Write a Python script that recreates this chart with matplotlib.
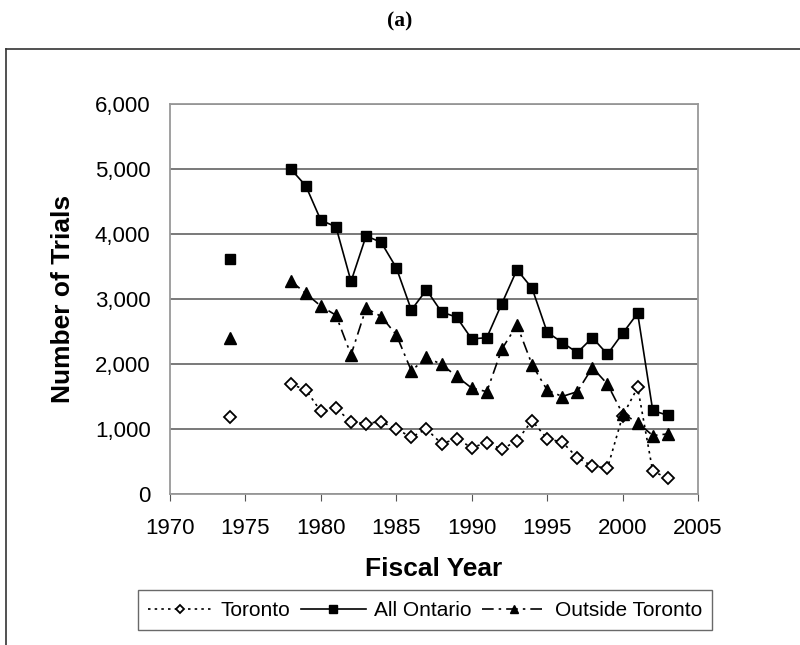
import numpy as np
import matplotlib
matplotlib.use('Agg')
import matplotlib.pyplot as plt
from matplotlib.lines import Line2D
from matplotlib.ticker import FuncFormatter

plt.rcParams['font.family'] = ['Liberation Sans', 'DejaVu Sans']

# fiscal years (1975-1977 not reported)
years = [1974, 1975, 1976, 1977, 1978, 1979, 1980, 1981, 1982, 1983, 1984,
         1985, 1986, 1987, 1988, 1989, 1990, 1991, 1992, 1993, 1994, 1995,
         1996, 1997, 1998, 1999, 2000, 2001, 2002, 2003]
nan = np.nan
toronto = [1190, nan, nan, nan, 1690, 1605, 1270, 1320, 1110, 1085, 1115,
           1000, 875, 1000, 775, 850, 715, 790, 690, 820, 1130, 850,
           800, 560, 430, 400, 1200, 1640, 350, 245]
all_ontario = [3610, nan, nan, nan, 5000, 4740, 4210, 4110, 3270, 3970, 3870,
               3480, 2830, 3140, 2800, 2720, 2385, 2405, 2930, 3450, 3165, 2490,
               2330, 2175, 2405, 2150, 2470, 2780, 1285, 1210]
outside = [2400, nan, nan, nan, 3280, 3085, 2890, 2750, 2140, 2860, 2730,
           2450, 1895, 2100, 1995, 1810, 1630, 1575, 2230, 2600, 1990, 1600,
           1500, 1575, 1945, 1690, 1235, 1100, 900, 925]

fig = plt.figure(figsize=(8, 6.45), dpi=100)
ax = fig.add_axes([0.2125, 0.234, 0.66, 0.605])

ax.plot(years, toronto, linestyle=(0, (1.5, 2.5)), color='black', lw=1.2,
        marker='D', markersize=6, markerfacecolor='white',
        markeredgecolor='black', markeredgewidth=1.3, label='Toronto')
ax.plot(years, all_ontario, linestyle='-', color='black', lw=1.2,
        marker='s', markersize=7.5, markerfacecolor='black', label='All Ontario')
ax.plot(years, outside, linestyle=(0, (7, 3, 1.5, 3)), color='black', lw=1.2,
        marker='^', markersize=8.5, markerfacecolor='black',
        label='Outside Toronto')

ax.set_xlim(1970, 2005)
ax.set_ylim(0, 6000)
ax.set_xticks(range(1970, 2006, 5))
ax.set_yticks(range(0, 6001, 1000))
ax.yaxis.set_major_formatter(FuncFormatter(lambda v, p: f'{int(v):,}'))
ax.grid(axis='y', color='#555555', lw=1.1)
ax.set_axisbelow(True)
for s in ax.spines.values():
    s.set_color('#999999')
    s.set_linewidth(1.3)
ax.tick_params(axis='x', direction='out', length=5, color='#555555',
               labelsize=16, pad=12.5)
ax.tick_params(axis='y', length=0, labelsize=16, pad=14)

ax.set_xlabel('Fiscal Year', fontsize=19, fontweight='bold', labelpad=13)
ax.set_ylabel('Number of Trials', fontsize=19, fontweight='bold', labelpad=14)

leg = ax.legend(loc='upper center', bbox_to_anchor=(0.483, -0.247), ncol=3,
                fontsize=15, frameon=True, fancybox=False, edgecolor='#444444',
                handlelength=3.1, handletextpad=0.4, columnspacing=0.5,
                borderpad=0.5, borderaxespad=0, markerscale=0.75)
leg.get_frame().set_linewidth(1.0)

fig.text(0.5, 0.967, '(a)', ha='center', va='center', fontsize=15.5,
         fontweight='bold', family='Liberation Serif')
fig.add_artist(Line2D([0.007, 1.0], [0.924, 0.924], color='#333333', lw=1.2))
fig.add_artist(Line2D([0.007, 0.007], [0.924, 0.0], color='#333333', lw=1.2))

fig.savefig('out.png', dpi=100)
